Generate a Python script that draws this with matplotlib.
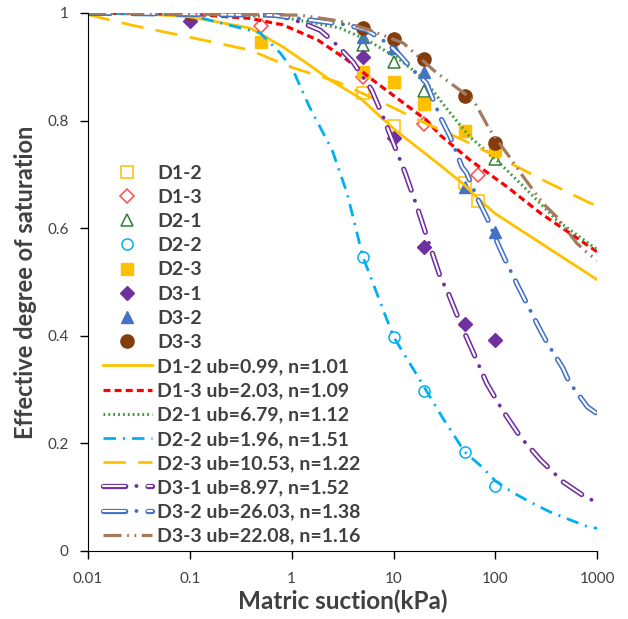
import matplotlib
matplotlib.use("Agg")
import matplotlib.pyplot as plt
from matplotlib.legend_handler import HandlerTuple

plt.rcParams["font.family"] = ["Lato", "DejaVu Sans"]
plt.rcParams["lines.scale_dashes"] = False  # dash patterns below are in points

############################################
# measured points (suction kPa, effective saturation)
############################################
pt_x_d12 = [5, 10, 50, 68]
pt_y_d12 = [0.851, 0.79, 0.684, 0.651]
pt_x_d13 = [0.5, 5, 20, 68]
pt_y_d13 = [0.976, 0.881, 0.794, 0.699]
pt_x_d21 = [5, 10, 20, 100]
pt_y_d21 = [0.94, 0.909, 0.855, 0.729]
pt_x_d22 = [5, 10, 20, 50, 100]
pt_y_d22 = [0.547, 0.398, 0.297, 0.184, 0.121]
pt_x_d23 = [0.5, 5, 10, 20, 50, 100]
pt_y_d23 = [0.946, 0.89, 0.872, 0.831, 0.781, 0.745]
pt_x_d31 = [0.1, 5, 10, 20, 50, 100]
pt_y_d31 = [0.985, 0.918, 0.767, 0.565, 0.422, 0.392]
pt_x_d32 = [5, 10, 20, 50, 100]
pt_y_d32 = [0.955, 0.935, 0.89, 0.677, 0.593]
pt_x_d33 = [0.1, 5, 10, 20, 50, 100]
pt_y_d33 = [1.0, 0.972, 0.951, 0.914, 0.846, 0.758]

############################################
# fitted curves
############################################
fx_d12 = [0.01, 0.03, 0.1, 0.39, 0.82, 1.4, 2.4, 4.7, 10, 28.7, 50, 70, 100, 280, 1000]
fy_d12 = [1.0, 0.999, 0.993, 0.972, 0.937, 0.907, 0.875, 0.842, 0.785, 0.717, 0.68, 0.652, 0.627, 0.572, 0.504]
fx_d13 = [0.01, 0.1, 0.39, 0.82, 1.8, 3.5, 6.3, 11.5, 21, 28.7, 56, 130, 277, 1000]
fy_d13 = [1.0, 0.998, 0.99, 0.978, 0.95, 0.913, 0.875, 0.838, 0.801, 0.773, 0.727, 0.677, 0.628, 0.556]
fx_d21 = [0.01, 0.2, 0.77, 1.5, 3, 5.5, 11, 19.5, 34, 56, 102, 190, 400, 1000]
fy_d21 = [1.0, 0.996, 0.993, 0.983, 0.972, 0.95, 0.916, 0.879, 0.82, 0.77, 0.727, 0.677, 0.615, 0.56]
fx_d22 = [0.01, 0.1, 0.49, 0.77, 1.03, 1.5, 1.9, 2.5, 3.5, 5, 10, 17.5, 30, 50, 74, 100,
          150, 230, 340, 520, 810, 1000]
fy_d22 = [1.0, 0.996, 0.963, 0.926, 0.894, 0.825, 0.788, 0.745, 0.665, 0.547, 0.398, 0.323,
          0.249, 0.184, 0.156, 0.13, 0.108, 0.089, 0.073, 0.059, 0.045, 0.042]
fx_d23 = [0.01, 0.026, 0.1, 0.39, 0.96, 2.8, 7.9, 19.5, 48, 164, 320, 840, 1000]
fy_d23 = [0.997, 0.978, 0.955, 0.931, 0.9, 0.872, 0.833, 0.797, 0.764, 0.714, 0.686, 0.647, 0.642]
fx_d31 = [0.01, 0.72, 1.3, 1.9, 2.6, 4, 6.1, 7.9, 13, 17, 21, 28.7, 35, 46, 61, 82, 117,
          176, 278, 465, 810, 1000]
fy_d31 = [1.0, 0.998, 0.981, 0.968, 0.946, 0.909, 0.857, 0.807, 0.703, 0.64, 0.587, 0.51,
          0.476, 0.42, 0.368, 0.312, 0.262, 0.212, 0.169, 0.128, 0.097, 0.092]
fx_d32 = [0.01, 0.66, 3.5, 5.5, 8.7, 11.5, 15.5, 21, 28.7, 36, 47, 52, 68, 82, 107, 125,
          168, 270, 320, 460, 530, 800, 1000]
fy_d32 = [1.0, 0.996, 0.978, 0.968, 0.944, 0.922, 0.894, 0.87, 0.807, 0.77, 0.714, 0.703,
          0.652, 0.621, 0.569, 0.541, 0.491, 0.414, 0.388, 0.34, 0.314, 0.268, 0.255]
fx_d33 = [0.01, 1.2, 3, 5.9, 12.5, 24.6, 36, 61, 88, 138, 176, 290, 400, 630, 800, 1000]
fy_d33 = [1.0, 0.996, 0.985, 0.968, 0.944, 0.894, 0.87, 0.838, 0.783, 0.732, 0.703, 0.647,
          0.621, 0.572, 0.554, 0.54]

point_labels = ["D1-2", "D1-3", "D2-1", "D2-2", "D2-3", "D3-1", "D3-2", "D3-3"]
curve_labels = ["D1-2 ub=0.99, n=1.01", "D1-3 ub=2.03, n=1.09", "D2-1 ub=6.79, n=1.12",
                "D2-2 ub=1.96, n=1.51", "D2-3 ub=10.53, n=1.22", "D3-1 ub=8.97, n=1.52",
                "D3-2 ub=26.03, n=1.38", "D3-3 ub=22.08, n=1.16"]
x_ticks = [0.01, 0.1, 1, 10, 100, 1000]
x_tick_labels = ["0.01", "0.1", "1", "10", "100", "1000"]
y_ticks = [0, 0.2, 0.4, 0.6, 0.8, 1]
y_tick_labels = ["0", "0.2", "0.4", "0.6", "0.8", "1"]

fig = plt.figure(figsize=(6.28, 6.19), dpi=100)
ax = fig.add_axes([0.140, 0.110, 0.811, 0.869])

ORANGE = "#FFC000"
GREY = "#404040"
handles = []

# measured points
handles.append(ax.plot(pt_x_d12, pt_y_d12, "s", ms=8, mfc="white", mec=ORANGE, mew=1.1)[0])
handles.append(ax.plot(pt_x_d13, pt_y_d13, "D", ms=7.5, mfc="white", mec="#FF4B4B", mew=1.1)[0])
handles.append(ax.plot(pt_x_d21, pt_y_d21, "^", ms=8, mfc="white", mec="#2E7D32", mew=1.1)[0])
handles.append(ax.plot(pt_x_d22, pt_y_d22, "o", ms=8, mfc="white", mec="#00B0F0", mew=1.1)[0])
handles.append(ax.plot(pt_x_d23, pt_y_d23, "s", ms=8, color=ORANGE)[0])
handles.append(ax.plot(pt_x_d31, pt_y_d31, "D", ms=7.5, color="#7030A0")[0])
handles.append(ax.plot(pt_x_d32, pt_y_d32, "^", ms=9, color="#4472C4")[0])
handles.append(ax.plot(pt_x_d33, pt_y_d33, "o", ms=9.5, color="#843C0C")[0])

# fitted curves
l1, = ax.plot(fx_d12, fy_d12, "-", color=ORANGE, lw=2)
l2, = ax.plot(fx_d13, fy_d13, color="#FF0000", lw=2.3, linestyle=(0, (5, 3)))
l3, = ax.plot(fx_d21, fy_d21, color="#3E9B3E", lw=2.2, linestyle=(0, (1.3, 2.2)))
l4, = ax.plot(fx_d22, fy_d22, color="#00B0F0", lw=2, linestyle=(0, (9, 5, 1.5, 5)))
l5, = ax.plot(fx_d23, fy_d23, color=ORANGE, lw=2, linestyle=(0, (16, 9)))


def double_line(x, y, color):
    # hollow long dash with a dot in each gap
    dash = (0, (16, 16))
    outer, = ax.plot(x, y, color=color, lw=3.8, linestyle=dash, dash_capstyle="round")
    inner, = ax.plot(x, y, color="white", lw=1.5, linestyle=dash, dash_capstyle="round")
    dot, = ax.plot(x, y, color=color, lw=2.8, linestyle=(8, (0.1, 31.9)), dash_capstyle="round")
    return (outer, inner, dot)


l6 = double_line(fx_d31, fy_d31, "#7030A0")
l7 = double_line(fx_d32, fy_d32, "#4472C4")
l8, = ax.plot(fx_d33, fy_d33, color="#A47A5C", lw=2.3, linestyle=(0, (13, 4, 1.3, 4, 1.3, 4)))

handles += [l1, l2, l3, l4, l5, l6, l7, l8]
labels = point_labels + curve_labels

ax.set_xscale("log")
ax.set_xlim(0.01, 1000)
ax.set_ylim(0, 1)
ax.set_xticks(x_ticks)
ax.set_xticklabels(x_tick_labels)
ax.set_yticks(y_ticks)
ax.set_yticklabels(y_tick_labels)
ax.minorticks_off()
ax.tick_params(direction="out", length=6, width=1, labelsize=11, labelcolor=GREY)
ax.tick_params(axis="x", pad=9)
ax.tick_params(axis="y", pad=8)
for s in ["top", "right"]:
    ax.spines[s].set_visible(False)

ax.set_xlabel("Matric suction(kPa)", fontsize=17.5, fontweight="bold", color=GREY, labelpad=3)
ax.set_ylabel("Effective degree of saturation", fontsize=17, fontweight="bold", color=GREY, labelpad=7)

leg = ax.legend(handles, labels, loc="upper left", bbox_to_anchor=(0.0295, 0.718), frameon=False,
                fontsize=14, handlelength=2.5, handletextpad=0.3, labelspacing=0.37,
                borderaxespad=0, borderpad=0,
                handler_map={tuple: HandlerTuple(ndivide=1, pad=0)})
for t in leg.get_texts():
    t.set_fontweight("bold")
    t.set_color(GREY)

fig.savefig("out.png", dpi=100)
